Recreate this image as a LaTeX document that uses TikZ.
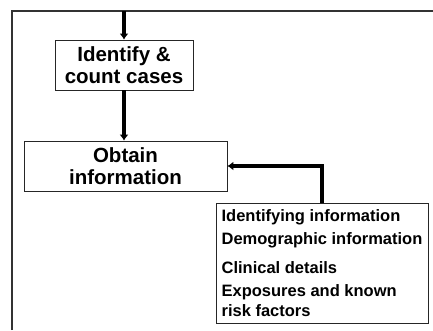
\documentclass[tikz,border=0pt]{standalone}
\usepackage{fontspec}
\setmainfont{Liberation Sans}
\usetikzlibrary{arrows.meta}

\begin{document}
\begin{tikzpicture}[x=1pt,y=1pt,
  stagebox/.style={draw=black!85, line width=0.8pt, fill=white, align=center,
    font=\fontsize{20.5}{21.5}\selectfont\bfseries},
  listbox/.style={draw=black!85, line width=0.8pt, fill=white, align=left,
    inner xsep=5pt, font=\fontsize{16.5}{20}\selectfont\bfseries},
  flow/.style={line width=3.1pt, -{Latex[length=6pt,width=9pt]}}]
\useasboundingbox (0,0) rectangle (433,330);
\draw[line width=1.2pt, black!80] (12,0) -- (12,319) -- (433,319);

\coordinate (start) at (124,319);
\node[stagebox, minimum width=138, minimum height=50] (count) at (124,265) {Identify \&\\count cases};
\node[stagebox, minimum width=203, minimum height=50] (obtain) at (125.5,164) {Obtain\\information};
\node[listbox, minimum width=212, minimum height=120] (items) at (322,67)
  {Identifying information\\[3pt]
   Demographic information\\[9pt]
   Clinical details\\[3pt]
   Exposures and known\\
   risk factors};

\draw[flow] (start) -- (count.north);
\draw[flow] (count.south) -- (count.south |- obtain.north);
\draw[flow] (items.north) |- (obtain.east);
\end{tikzpicture}
\end{document}
